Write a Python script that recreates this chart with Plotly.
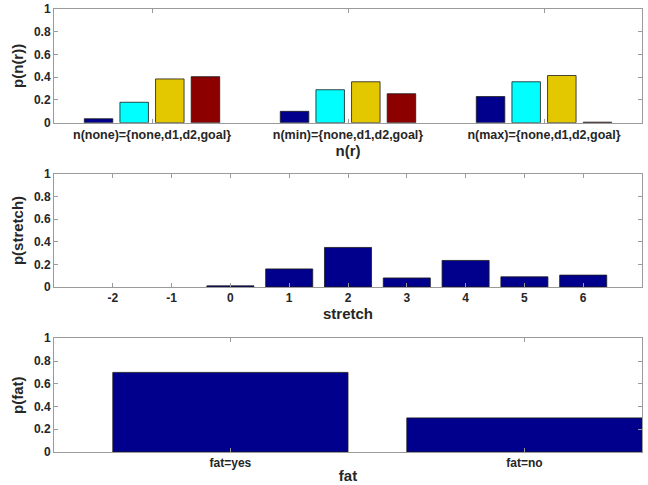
import plotly.graph_objects as go

# ---- data ----
nr_labels = ["n(none)={none,d1,d2,goal}", "n(min)={none,d1,d2,goal}", "n(max)={none,d1,d2,goal}"]
nr_series_names = ["none", "d1", "d2", "goal"]
nr_none = [0.035, 0.100, 0.230]
nr_d1 = [0.180, 0.290, 0.360]
nr_d2 = [0.385, 0.360, 0.415]
nr_goal = [0.405, 0.255, 0.005]

stretch_vals = [-2, -1, 0, 1, 2, 3, 4, 5, 6]
p_stretch = [0.0, 0.0, 0.010, 0.160, 0.350, 0.080, 0.235, 0.090, 0.105]

fat_labels = ["fat=yes", "fat=no"]
p_fat = [0.70, 0.30]

y_ticks = [0, 0.2, 0.4, 0.6, 0.8, 1]
y_ticktext = ["0", "0.2", "0.4", "0.6", "0.8", "1"]

# ---- style ----
NAVY = "#00008C"
CYAN = "#00FFFF"
GOLD = "#E3C800"
DRED = "#8C0000"
FRAME = "#9A9A9A"
TXT = "#262626"
EDGE = "#1a1a1a"
FONT = "Liberation Sans"

fig = go.Figure()

# grouped bars (MATLAB-style: 4 bars per group, group width ~0.727)
n_series = 4
group_w = min(0.8, n_series / (n_series + 1.5))
slot = group_w / n_series
bar_w = slot * 0.8
xs = [1, 2, 3]
for i, (vals, col, name) in enumerate(zip([nr_none, nr_d1, nr_d2, nr_goal],
                                          [NAVY, CYAN, GOLD, DRED], nr_series_names)):
    center = (i - (n_series - 1) / 2) * slot
    fig.add_trace(go.Bar(
        x=xs, y=vals, name=name, xaxis="x", yaxis="y",
        width=bar_w, offset=center - bar_w / 2,
        marker=dict(color=col, line=dict(color=EDGE, width=0.8)),
        showlegend=False,
    ))

# empty bins get no outline
stretch_edge = [0.8 if v > 0 else 0 for v in p_stretch]
fig.add_trace(go.Bar(
    x=stretch_vals, y=p_stretch, xaxis="x2", yaxis="y2", width=0.8,
    marker=dict(color=NAVY, line=dict(color=EDGE, width=stretch_edge)),
    showlegend=False,
))

fig.add_trace(go.Bar(
    x=[1, 2], y=p_fat, xaxis="x3", yaxis="y3", width=0.8,
    marker=dict(color=NAVY, line=dict(color=EDGE, width=0.8)),
    showlegend=False,
))

tickfont = dict(family=FONT, size=12, color=TXT, weight="bold")
titlefont = dict(family=FONT, size=15, color=TXT, weight="bold")


def xax(domain_anchor, rng, tickvals, ticktext, title, size=12):
    return dict(
        anchor=domain_anchor, domain=[0, 1], range=rng,
        tickmode="array", tickvals=tickvals, ticktext=ticktext,
        ticks="inside", ticklen=4, tickcolor=FRAME, tickwidth=1,
        showline=True, linecolor=FRAME, linewidth=1, mirror="ticks",
        showgrid=False, zeroline=False,
        tickfont=dict(family=FONT, size=size, color=TXT, weight="bold"),
        title=dict(text=title, font=titlefont, standoff=1),
        automargin=False,
    )


def yax(domain_anchor, dom, title):
    return dict(
        anchor=domain_anchor, domain=dom, range=[0, 1],
        tickmode="array", tickvals=y_ticks, ticktext=y_ticktext,
        ticks="inside", ticklen=4, tickcolor=FRAME, tickwidth=1,
        showline=True, linecolor=FRAME, linewidth=1, mirror="ticks",
        showgrid=False, zeroline=False,
        tickfont=tickfont,
        title=dict(text=title, font=titlefont, standoff=6),
        automargin=False,
    )


fig.update_layout(
    width=648, height=485,
    margin=dict(l=54, r=6, t=9, b=33),
    paper_bgcolor="white", plot_bgcolor="white",
    barmode="overlay",
    xaxis=xax("y", [0.5, 3.5], xs, nr_labels, "n(r)", size=12.5),
    yaxis=yax("x", [0.7433, 1.0], "p(n(r))"),
    xaxis2=xax("y2", [-3, 7], stretch_vals, [str(v) for v in stretch_vals], "stretch"),
    yaxis2=yax("x2", [0.3725, 0.6275], "p(stretch)"),
    xaxis3=xax("y3", [0.4, 2.4], [1, 2], fat_labels, "fat"),
    yaxis3=yax("x3", [0.0, 0.2567], "p(fat)"),
)

fig.write_html("out.html")
